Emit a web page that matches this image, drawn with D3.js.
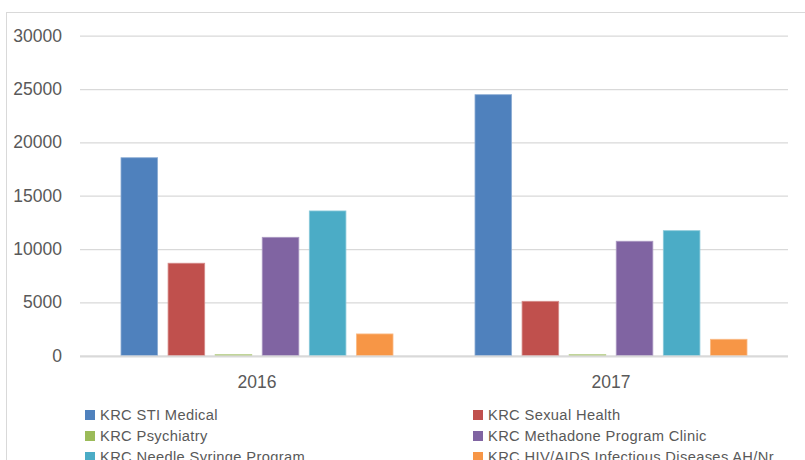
<!DOCTYPE html>
<html>
<head>
<meta charset="utf-8">
<script src="https://cdn.jsdelivr.net/npm/d3@7"></script>
<style>
  html, body { margin: 0; padding: 0; background: #fff; }
  svg { display: block; }
  text { font-family: "Liberation Sans", Arial, sans-serif; fill: #595959; }
</style>
</head>
<body>
<svg id="chart" width="805" height="460"></svg>
<script>
const categories = ["2016", "2017"];
const seriesNames = [
  "KRC STI Medical",
  "KRC Sexual Health",
  "KRC Psychiatry",
  "KRC Methadone Program Clinic",
  "KRC Needle Syringe Program",
  "KRC HIV/AIDS Infectious Diseases AH/Nr"
];
const seriesColors = ["#4F81BD", "#C0504D", "#9BBB59", "#8064A2", "#4BACC6", "#F79646"];
const values2016 = [18560, 8670, 110, 11100, 13570, 2040];
const values2017 = [24470, 5100, 110, 10730, 11720, 1540];
const yTicks = [0, 5000, 10000, 15000, 20000, 25000, 30000];

const valuesByCategory = { "2016": values2016, "2017": values2017 };

const svg = d3.select("#chart");

// chart border (top and left visible)
svg.append("line").attr("x1", 6).attr("x2", 805).attr("y1", 12.5).attr("y2", 12.5)
  .attr("stroke", "#d9d9d9").attr("stroke-width", 1);
svg.append("line").attr("x1", 6.5).attr("x2", 6.5).attr("y1", 12).attr("y2", 460)
  .attr("stroke", "#d9d9d9").attr("stroke-width", 1);

const plotLeft = 80, plotRight = 788;
const y = d3.scaleLinear().domain([0, 30000]).range([355.7, 35.7]);
const x0 = d3.scaleBand().domain(categories).range([plotLeft, plotRight]).padding(0);
const bw = x0.bandwidth();
const x1 = d3.scaleBand().domain(seriesNames)
  .range([bw * 0.1158, bw * 0.8842]).paddingInner(0.222).paddingOuter(0);

// gridlines
const gridAxis = d3.axisLeft(y).tickValues(yTicks).tickSize(-(plotRight - plotLeft)).tickFormat("");
const gg = svg.append("g").attr("transform", `translate(${plotLeft},0)`).call(gridAxis);
gg.select(".domain").remove();
gg.selectAll(".tick line").attr("stroke", "#d9d9d9").attr("stroke-width", 1.3);

// y tick labels
const yAxis = d3.axisLeft(y).tickValues(yTicks).tickSize(0).tickPadding(0).tickFormat(d3.format("d"));
const ya = svg.append("g").attr("transform", `translate(62,0)`).call(yAxis);
ya.select(".domain").remove();
ya.selectAll(".tick text").attr("font-size", "17.5px")
  .style("font-family", "'Liberation Sans', Arial, sans-serif").attr("fill", "#595959");

// bars
const groups = svg.append("g").selectAll("g").data(categories).join("g")
  .attr("transform", d => `translate(${x0(d)},0)`);
groups.selectAll("rect")
  .data(c => seriesNames.map((s, i) => ({ s, i, v: valuesByCategory[c][i] })))
  .join("rect")
  .attr("x", d => x1(d.s))
  .attr("width", x1.bandwidth())
  .attr("y", d => y(d.v))
  .attr("height", d => y(0) - y(d.v))
  .attr("fill", d => seriesColors[d.i])
  .attr("stroke", d => d3.interpolateRgb(seriesColors[d.i], "#ffffff")(0.35))
  .attr("stroke-width", 0.8);

// x axis line
svg.append("line").attr("x1", plotLeft).attr("x2", plotRight)
  .attr("y1", y(0) + 0.8).attr("y2", y(0) + 0.8)
  .attr("stroke", "#d9d9d9").attr("stroke-width", 1.8);

// x axis labels
const xAxis = d3.axisBottom(x0).tickSize(0).tickPadding(0);
const xa = svg.append("g").attr("transform", `translate(0,388)`).call(xAxis);
xa.select(".domain").remove();
xa.selectAll(".tick text").attr("dy", 0).attr("font-size", "17.5px")
  .style("font-family", "'Liberation Sans', Arial, sans-serif").attr("fill", "#595959");

// legend
const legendCols = [85, 473];
const legendRows = [420, 441, 462];
const legend = svg.append("g").selectAll("g").data(seriesNames).join("g")
  .attr("transform", (d, i) => `translate(${legendCols[i % 2]},${legendRows[Math.floor(i / 2)]})`);
legend.append("rect").attr("x", 0).attr("y", -10).attr("width", 10).attr("height", 10)
  .attr("fill", (d, i) => seriesColors[i]);
legend.append("text").attr("x", 15).attr("y", 0).attr("font-size", "14.7px")
  .attr("letter-spacing", "0.35px").text(d => d);
</script>
</body>
</html>
